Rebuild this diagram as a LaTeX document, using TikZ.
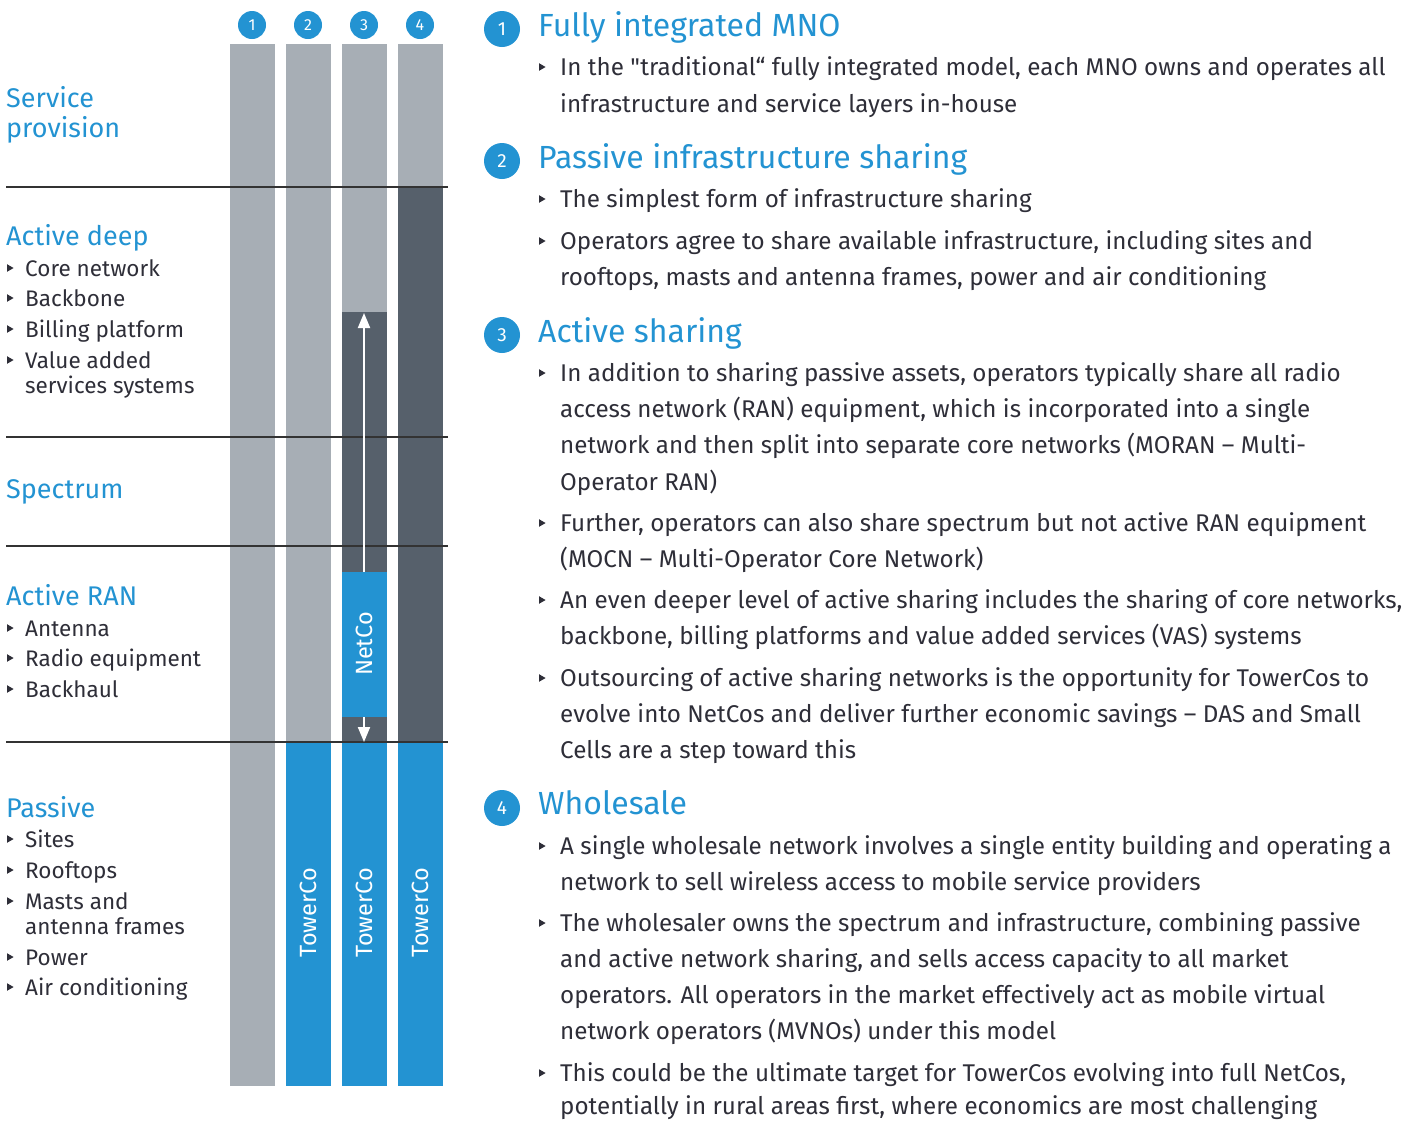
\documentclass[tikz,border=0pt]{standalone}
\usepackage{fontspec}
\setmainfont{Fira Sans}[Ligatures=TeXOff]
\usetikzlibrary{arrows.meta}
\definecolor{eyblue}{HTML}{2393D2}
\definecolor{eygray}{HTML}{A7AEB5}
\definecolor{eydark}{HTML}{56606B}
\definecolor{eytext}{HTML}{2E2E38}
\definecolor{eyline}{HTML}{333333}
\tikzset{
  body/.style={inner sep=0pt, anchor=mid west, yshift=-6pt, text=eytext, font=\fontsize{24.2}{29}\selectfont},
  lbody/.style={inner sep=0pt, anchor=mid west, yshift=-6pt, text=eytext, font=\fontsize{22.5}{27}\selectfont},
  head/.style={inner sep=0pt, anchor=mid west, yshift=-8pt, text=eyblue, font=\fontsize{32}{38}\selectfont},
  lhead/.style={inner sep=0pt, anchor=mid west, yshift=-8pt, text=eyblue, font=\fontsize{27}{32}\selectfont},
  numsmall/.style={circle, fill=eyblue, minimum size=28pt, inner sep=0pt, text=white, font=\fontsize{16}{18}\selectfont},
  numbig/.style={circle, fill=eyblue, minimum size=36pt, inner sep=0pt, text=white, font=\fontsize{19}{22}\selectfont},
  coltext/.style={inner sep=0pt, rotate=90, text=white, font=\fontsize{23.5}{28}\selectfont},
  layerline/.style={draw=eyline, line width=1.2pt},
  tri/.pic={\fill[eytext] (-3,-3.8) -- (3.6,0) -- (-3,3.8) -- cycle;}
}
\newcommand\myrl[3]{\node[body] (#1) at (560,#2) {#3};}
\newcommand\myrb[1]{\pic at (542,#1) {tri};}
\newcommand\myll[3]{\node[lbody] (#1) at (25,#2) {#3};}
\newcommand\mylb[1]{\pic at (10,#1) {tri};}
\begin{document}
\begin{tikzpicture}[x=1pt,y=-1pt]
\useasboundingbox (0,0) rectangle (1422,1120);
% ---------- columns ----------
\fill[eygray] (230,44) rectangle (275,1086);
\fill[eygray] (286,44) rectangle (331,742);
\fill[eyblue] (286,742) rectangle (331,1086);
\fill[eygray] (342,44) rectangle (387,312);
\fill[eydark] (342,312) rectangle (387,742);
\fill[eyblue] (342,572) rectangle (387,717);
\fill[eyblue] (342,742) rectangle (387,1086);
\fill[eygray] (398,44) rectangle (443,187);
\fill[eydark] (398,187) rectangle (443,742);
\fill[eyblue] (398,742) rectangle (443,1086);
% ---------- layer lines ----------
\coordinate (l1a) at (6,187);  \coordinate (l1b) at (448,187);
\coordinate (l2a) at (6,437);  \coordinate (l2b) at (448,437);
\coordinate (l3a) at (6,546);  \coordinate (l3b) at (448,546);
\coordinate (l4a) at (6,742);  \coordinate (l4b) at (448,742);
\draw[layerline] (l1a) -- (l1b);
\draw[layerline] (l2a) -- (l2b);
\draw[layerline] (l3a) -- (l3b);
\draw[layerline] (l4a) -- (l4b);
% ---------- arrows in column 3 ----------
\coordinate (aup0) at (364,572);
\coordinate (aup1) at (364,313);
\coordinate (adn0) at (364,717);
\coordinate (adn1) at (364,742);
\draw[white, line width=2pt, -{Triangle[length=15pt,width=12pt]}] (aup0) -- (aup1);
\draw[white, line width=2pt, -{Triangle[length=15pt,width=12pt]}] (adn0) -- (adn1);
% ---------- column labels ----------
\node[coltext] (netco) at (364,644) {NetCo};
\node[coltext] (tc2) at (308,913) {TowerCo};
\node[coltext] (tc3) at (364,913) {TowerCo};
\node[coltext] (tc4) at (420,913) {TowerCo};
% ---------- top numbers ----------
\node[numsmall] (c1) at (252,25) {1};
\node[numsmall] (c2) at (308,25) {2};
\node[numsmall] (c3) at (364,25) {3};
\node[numsmall] (c4) at (420,25) {4};
% ---------- left labels ----------
\node[lhead] (sp1) at (6,97) {Service};
\node[lhead] (sp2) at (6,127) {provision};
\node[lhead] (ad) at (6,235) {Active deep};
\mylb{268}\myll{ad1}{268}{Core network}
\mylb{298}\myll{ad2}{298}{Backbone}
\mylb{329}\myll{ad3}{329}{Billing platform}
\mylb{360}\myll{ad4}{360}{Value added}
\myll{ad5}{385}{services systems}
\node[lhead] (spec) at (6,488) {Spectrum};
\node[lhead] (ran) at (6,595) {Active RAN};
\mylb{628}\myll{ran1}{628}{Antenna}
\mylb{658}\myll{ran2}{658}{Radio equipment}
\mylb{689}\myll{ran3}{689}{Backhaul}
\node[lhead] (pas) at (6,807) {Passive};
\mylb{839}\myll{p1}{839}{Sites}
\mylb{870}\myll{p2}{870}{Rooftops}
\mylb{901}\myll{p3}{901}{Masts and}
\myll{p4}{926}{antenna frames}
\mylb{957}\myll{p5}{957}{Power}
\mylb{987}\myll{p6}{987}{Air conditioning}
% ---------- right side ----------
\node[numbig] (r1) at (502,29) {1};
\node[head] (h1) at (538,26) {Fully integrated MNO};
\myrb{67}\myrl{a1}{67}{In the "traditional“ fully integrated model, each MNO owns and operates all}
\myrl{a2}{104}{infrastructure and service layers in-house}
\node[numbig] (r2) at (502,161) {2};
\node[head] (h2) at (538,158) {Passive infrastructure sharing};
\myrb{199}\myrl{b1}{199}{The simplest form of infrastructure sharing}
\myrb{241}\myrl{b2}{241}{Operators agree to share available infrastructure, including sites and}
\myrl{b3}{277}{rooftops, masts and antenna frames, power and air conditioning}
\node[numbig] (r3) at (502,335) {3};
\node[head] (h3) at (538,332) {Active sharing};
\myrb{373}\myrl{c1l}{373}{In addition to sharing passive assets, operators typically share all radio}
\myrl{c2l}{409}{access network (RAN) equipment, which is incorporated into a single}
\myrl{c3l}{445}{network and then split into separate core networks (MORAN – Multi-}
\myrl{c4l}{482}{Operator RAN)}
\myrb{523}\myrl{c5l}{523}{Further, operators can also share spectrum but not active RAN equipment}
\myrl{c6l}{559}{(MOCN – Multi-Operator Core Network)}
\myrb{600}\myrl{c7l}{600}{An even deeper level of active sharing includes the sharing of core networks,}
\myrl{c8l}{636}{backbone, billing platforms and value added services (VAS) systems}
\myrb{678}\myrl{c9l}{678}{Outsourcing of active sharing networks is the opportunity for TowerCos to}
\myrl{c10l}{714}{evolve into NetCos and deliver further economic savings – DAS and Small}
\myrl{c11l}{750}{Cells are a step toward this}
\node[numbig] (r4) at (502,808) {4};
\node[head] (h4) at (538,804) {Wholesale};
\myrb{846}\myrl{d1}{846}{A single wholesale network involves a single entity building and operating a}
\myrl{d2}{882}{network to sell wireless access to mobile service providers}
\myrb{923}\myrl{d3}{923}{The wholesaler owns the spectrum and infrastructure, combining passive}
\myrl{d4}{959}{and active network sharing, and sells access capacity to all market}
\myrl{d5}{995}{operators. All operators in the market effectively act as mobile virtual}
\myrl{d6}{1031}{network operators (MVNOs) under this model}
\myrb{1073}\myrl{d7}{1073}{This could be the ultimate target for TowerCos evolving into full NetCos,}
\myrl{d8}{1106}{potentially in rural areas first, where economics are most challenging}
\end{tikzpicture}
\end{document}
